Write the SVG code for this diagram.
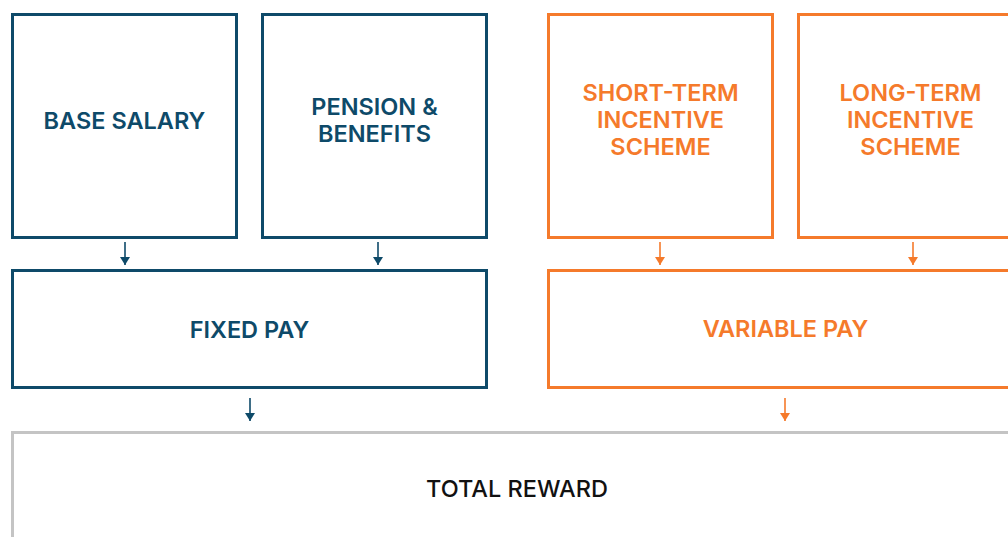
<svg xmlns="http://www.w3.org/2000/svg" width="1008" height="537" viewBox="0 0 1008 537">
<style>
.box{fill:#fff;stroke-width:3}
.b{stroke:#0e4a69}
.o{stroke:#f57a2b}
.g{stroke:#c4c4c4}
text{font-family:Inter,"Liberation Sans",sans-serif;font-weight:600;font-size:23.5px;text-anchor:middle}
.tb{fill:#0e4a69}
.to{fill:#f57a2b}
.tk{fill:#111;font-weight:500}
.cb{stroke:#0e4a69;stroke-width:1.6;fill:none}
.co{stroke:#f57a2b;stroke-width:1.6;fill:none}
</style>
<defs>
<marker id="ab" viewBox="0 0 10 8" refX="5" refY="8" markerWidth="10" markerHeight="8" markerUnits="userSpaceOnUse"><path d="M0,0 L10,0 L5,8 z" fill="#0e4a69"/></marker>
<marker id="ao" viewBox="0 0 10 8" refX="5" refY="8" markerWidth="10" markerHeight="8" markerUnits="userSpaceOnUse"><path d="M0,0 L10,0 L5,8 z" fill="#f57a2b"/></marker>
</defs>
<rect width="1008" height="537" fill="#fff"/>
<g id="base-salary"><rect class="box b" x="12.5" y="14.5" width="224" height="223"/><text class="tb" x="124.5" y="128.5">BASE SALARY</text></g>
<g id="pension"><rect class="box b" x="262.5" y="14.5" width="224" height="223"/><text class="tb" x="374.5" y="114.5">PENSION &amp;</text><text class="tb" x="374.5" y="141.5">BENEFITS</text></g>
<g id="short-term"><rect class="box o" x="548.5" y="14.5" width="224" height="223"/><text class="to" x="660.5" y="101">SHORT-TERM</text><text class="to" x="660.5" y="128">INCENTIVE</text><text class="to" x="660.5" y="155">SCHEME</text></g>
<g id="long-term"><rect class="box o" x="798.5" y="14.5" width="224" height="223"/><text class="to" x="910.5" y="101">LONG-TERM</text><text class="to" x="910.5" y="128">INCENTIVE</text><text class="to" x="910.5" y="155">SCHEME</text></g>
<g id="fixed-pay"><rect class="box b" x="12.5" y="270.5" width="474" height="117"/><text class="tb" x="249.5" y="338">FIXED PAY</text></g>
<g id="variable-pay"><rect class="box o" x="548.5" y="270.5" width="474" height="117"/><text class="to" x="785.5" y="337">VARIABLE PAY</text></g>
<g id="total-reward"><rect class="box g" x="12.5" y="432.5" width="1010" height="120"/><text class="tk" x="517" y="497">TOTAL REWARD</text></g>
<g id="connectors">
<path class="cb" d="M125,242 V265" marker-end="url(#ab)"/>
<path class="cb" d="M378,242 V265" marker-end="url(#ab)"/>
<path class="co" d="M660,242 V265" marker-end="url(#ao)"/>
<path class="co" d="M913,242 V265" marker-end="url(#ao)"/>
<path class="cb" d="M250,398 V421" marker-end="url(#ab)"/>
<path class="co" d="M785,398 V421" marker-end="url(#ao)"/>
</g>
</svg>
